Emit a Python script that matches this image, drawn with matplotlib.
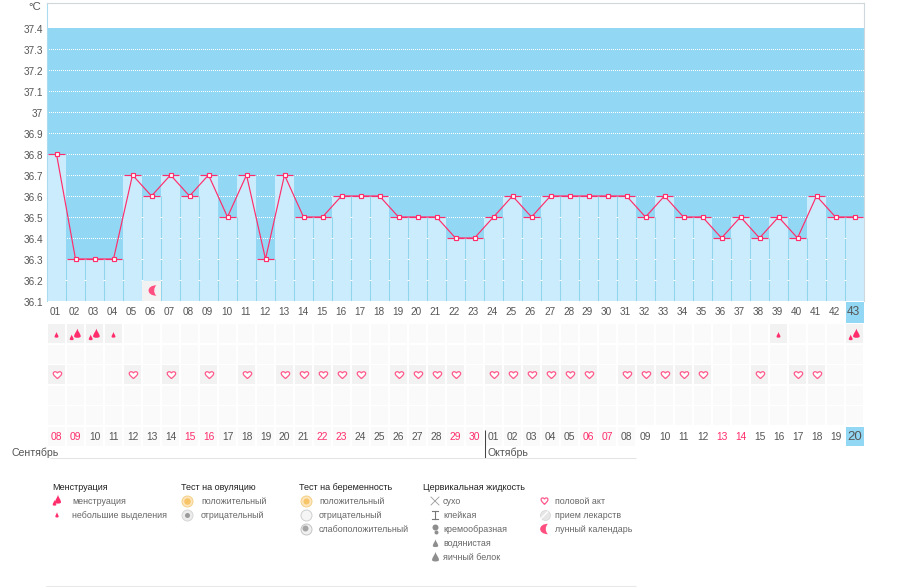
import matplotlib
matplotlib.use("Agg")
import matplotlib.pyplot as plt
from matplotlib.path import Path
from matplotlib.patches import Rectangle, PathPatch
from matplotlib.transforms import Affine2D, ScaledTranslation

plt.rcParams['font.family'] = ['Liberation Sans', 'DejaVu Sans']

W, H = 902, 587
cycle_days = [f"{i:02d}" for i in range(1, 44)]
temps = [36.8, 36.3, 36.3, 36.3, 36.7, 36.6, 36.7, 36.6, 36.7, 36.5, 36.7, 36.3, 36.7,
         36.5, 36.5, 36.6, 36.6, 36.6, 36.5, 36.5, 36.5, 36.4, 36.4, 36.5, 36.6, 36.5,
         36.6, 36.6, 36.6, 36.6, 36.6, 36.5, 36.6, 36.5, 36.5, 36.4, 36.5, 36.4, 36.5,
         36.4, 36.6, 36.5, 36.5]
dates = [f"{d:02d}" for d in range(8, 31)] + [f"{d:02d}" for d in range(1, 21)]
red_dates = [1, 2, 8, 9, 15, 16, 22, 23, 29, 30, 36, 37]
y_ticks = [36.1, 36.2, 36.3, 36.4, 36.5, 36.6, 36.7, 36.8, 36.9, 37, 37.1, 37.2, 37.3, 37.4]
y_tick_labels = ["36.1", "36.2", "36.3", "36.4", "36.5", "36.6", "36.7", "36.8", "36.9",
                 "37", "37.1", "37.2", "37.3", "37.4"]
heavy_flow = [2, 3, 43]
light_flow = [1, 4, 39]
sex_days = [1, 5, 7, 9, 11, 13, 14, 15, 16, 17, 19, 20, 21, 22, 24, 25, 26, 27, 28, 29,
            31, 32, 33, 34, 35, 38, 40, 41]
moon_days = [6]
months = ["Сентябрь", "Октябрь"]
legend_groups = [
    ("Менструация", ["менструация", "небольшие выделения"]),
    ("Тест на овуляцию", ["положительный", "отрицательный"]),
    ("Тест на беременность", ["положительный", "отрицательный", "слабоположительный"]),
    ("Цервикальная жидкость", ["сухо", "клейкая", "кремообразная", "водянистая", "яичный белок"]),
    ("", ["половой акт", "прием лекарств", "лунный календарь"]),
]

DARK, LIGHT, SEP = "#92d8f4", "#cbecfd", "#8fd5ec"
PINK, GREY, CELL, CELL_ON = "#ff2d6b", "#555555", "#fafafb", "#f2f2f3"

L, R = 47, 864
PX_PER_DEG = 210.0
Y_BOTTOM_PX, Y_LOW = 301, 36.1
Y_TOP_PX = 3
Y_HIGH = Y_LOW + (Y_BOTTOM_PX - Y_TOP_PX) / PX_PER_DEG

fig = plt.figure(figsize=(W / 100, H / 100), dpi=100, facecolor="white")


def axes_px(x0, x1, y_top, y_bot):
    return fig.add_axes([x0 / W, 1 - y_bot / H, (x1 - x0) / W, (y_bot - y_top) / H])


def drop_path():
    return Path([(0, -1), (0.18, -0.4), (0.75, 0.1), (0.75, 0.6), (0.75, 1), (-0.75, 1),
                 (-0.75, 0.6), (-0.75, 0.1), (-0.18, -0.4), (0, -1)],
                [1, 4, 4, 4, 4, 4, 4, 4, 4, 4])


def heart_path():
    return Path([(0, 0.95), (-0.4, 0.5), (-1, 0.1), (-1, -0.4), (-1, -0.95), (-0.25, -1.05), (0, -0.5),
                 (0.25, -1.05), (1, -0.95), (1, -0.4), (1, 0.1), (0.4, 0.5), (0, 0.95)],
                [1, 4, 4, 4, 4, 4, 4, 4, 4, 4, 4, 4, 4])


def moon_path():
    return Path([(0.6, -1), (-1.5, -1), (-1.5, 1), (0.6, 1), (0.0, 0.5), (0.0, -0.5), (0.6, -1)],
                [1, 4, 4, 4, 4, 4, 4])


# ---- temperature chart
ax = axes_px(L, R, Y_TOP_PX, Y_BOTTOM_PX)
ax.set_xlim(0.5, 43.5)
ax.set_ylim(Y_LOW, Y_HIGH)
ax.set_facecolor("white")
x = list(range(1, 44))
ax.axhspan(Y_LOW, 37.4, color=DARK, lw=0, zorder=0)
ax.hlines(y_ticks[1:-1], 0.5, 43.5, colors="white", lw=0.72,
          linestyles=(0, (1, 2)), zorder=1, antialiaseds=False)
ax.bar(x, [t - Y_LOW for t in temps], bottom=Y_LOW, width=1.0, color=LIGHT, lw=0, zorder=2)
for i, t in zip(x, temps):
    if i > 1:
        top = min(t, temps[i - 2])
        ax.vlines(i - 0.5, Y_LOW, top, colors=SEP, lw=0.75, zorder=3).set_snap(True)
        for v in y_ticks[1:-1]:
            if v < top:
                ax.hlines(v, i - 0.53, i - 0.47, colors="white", lw=0.72, zorder=3.2)
    ax.hlines(t, i - 0.47, i + 0.47, colors=PINK, lw=0.85, zorder=4)
ax.plot(x, temps, color=PINK, lw=0.85, zorder=5, marker="s", ms=3.4, mfc="white", mec=PINK, mew=0.85)
for d in moon_days:
    ax.add_patch(Rectangle((d - 0.5, Y_LOW), 1.0, 0.095, fc=CELL_ON, lw=0, zorder=3.5))
ax.set_xticks([])
ax.set_yticks(y_ticks)
ax.set_yticklabels(y_tick_labels, fontsize=7.2, color=GREY)
ax.tick_params(axis="y", length=0, pad=3)
shift = ScaledTranslation(0, -1 / 100, fig.dpi_scale_trans)
for lab in ax.get_yticklabels():
    lab.set_transform(lab.get_transform() + shift)
for s in ("left", "top", "right"):
    ax.spines[s].set_color("#a9dcee" if s == "left" else "#cfd8dc")
    ax.spines[s].set_linewidth(0.8)
ax.spines["bottom"].set_visible(False)

# ---- strips under the chart: y axis is in pixels
st = axes_px(L, R, 301, 459)
st.set_xlim(0.5, 43.5)
st.set_ylim(459, 301)
st.axis("off")
row_tops = [324, 344.5, 365, 385.5, 406]
CELL_H = 19
for top in row_tops:
    for i in x:
        st.add_patch(Rectangle((i - 0.45, top), 0.92, CELL_H, fc=CELL, lw=0, zorder=1))
for i in x:
    if i <= 31:
        st.add_patch(Rectangle((i - 0.45, 427), 0.92, 19, fc=CELL, lw=0, zorder=1))

st.add_patch(Rectangle((42.53, 302), 0.97, 21, fc=DARK, lw=0, zorder=1))
st.add_patch(Rectangle((42.53, 427), 0.97, 19, fc=DARK, lw=0, zorder=1))
for i, lab in zip(x, cycle_days):
    st.text(i - 0.05, 312, lab, ha="center", va="center", color=GREY,
            fontsize=8.6 if i == 43 else 7.2, zorder=3)
for i, lab in zip(x, dates):
    col = PINK if i in red_dates else GREY
    st.text(i, 437.5, lab, ha="center", va="center", color=col,
            fontsize=9.5 if i == 43 else 7.4, zorder=3)

for d in heavy_flow + light_flow:
    st.add_patch(Rectangle((d - 0.45, row_tops[0]), 0.92, CELL_H, fc=CELL_ON, lw=0, zorder=2))
for d in sex_days:
    st.add_patch(Rectangle((d - 0.45, row_tops[2]), 0.92, CELL_H, fc=CELL_ON, lw=0, zorder=2))

XS = 19.0  # px per column


def strip_shape(path, col, y_px, sx, sy, **kw):
    tr = Affine2D().scale(sx, sy).translate(col, y_px) + st.transData
    st.add_patch(PathPatch(path, transform=tr, zorder=4, clip_on=False, **kw))


for d in light_flow:
    strip_shape(drop_path(), d, 335, 2.6 / XS, 3.0, fc=PINK, lw=0)
for d in heavy_flow:
    strip_shape(drop_path(), d + 0.1, 333.5, 4.4 / XS, 4.8, fc=PINK, lw=0)
    strip_shape(drop_path(), d - 0.2, 337.5, 2.6 / XS, 3.0, fc=PINK, lw=0)
for d in sex_days:
    strip_shape(heart_path(), d + 0.05, 375, 4.2 / XS, 3.8, fc="white", ec="#ff5a8c", lw=0.9)

for d in moon_days:
    tr = Affine2D().scale(5.0 / XS, 5.2 / PX_PER_DEG).translate(d + 0.1, 36.1 + 10.5 / PX_PER_DEG) + ax.transData
    ax.add_patch(PathPatch(moon_path(), transform=tr, fc="#ff4f80", lw=0, zorder=6))

# ---- overlay in pixel coordinates
ov = fig.add_axes([0, 0, 1, 1], facecolor="none")
ov.set_xlim(0, W)
ov.set_ylim(H, 0)
ov.axis("off")
ov.text(28, 7, "°C", fontsize=8.2, color=GREY, ha="left", va="center")
ov.text(12, 453, months[0], fontsize=7.6, color=GREY, va="center")
ov.text(488, 453, months[1], fontsize=7.6, color=GREY, va="center")
ov.vlines(484.5, 430, 458, colors="#444444", lw=0.75).set_snap(True)
ov.hlines(458, 50, 636, colors="#e4e4e4", lw=0.75)
ov.hlines(586, 46, 636, colors="#e8e8e8", lw=0.75)

title_x = [52, 181, 299, 423, None]
text_x = [72, 201, 319, 443, 555]
item_y = [501, 515, 529, 543, 557]
for gi, (title, items) in enumerate(legend_groups):
    if title:
        ov.text(title_x[gi], 487, title, fontsize=6.5, color="#222222", va="center")
    for yy, it in zip(item_y, items):
        ov.text(text_x[gi], yy, it, fontsize=6.4, color="#666666", va="center")


def icon(path, x0, y0, sx, sy, **kw):
    tr = Affine2D().scale(sx, sy).translate(x0, y0) + ov.transData
    ov.add_patch(PathPatch(path, transform=tr, **kw))


def disc(x0, y0, r, **kw):
    ov.scatter([x0], [y0], s=(2 * r * 0.72) ** 2, **kw)


icon(drop_path(), 58, 499.5, 4, 4.6, fc=PINK, lw=0)
icon(drop_path(), 54.5, 503, 2.4, 3, fc=PINK, lw=0)
icon(drop_path(), 57, 515, 2.2, 2.8, fc=PINK, lw=0)
disc(187, 501, 5.5, fc="#fde6bd", ec="#f6cf85", lw=0.7)
disc(187, 501, 3.3, fc="#f8c468", lw=0)
disc(187, 515, 5.5, fc="#ececec", ec="#d6d6d6", lw=0.7)
disc(187, 515, 2.5, fc="#9a9a9a", lw=0)
disc(306, 501, 5.5, fc="#fde6bd", ec="#f6cf85", lw=0.7)
disc(306, 501, 3, fc="#f8c468", lw=0)
disc(306, 515, 5.5, fc="#f5f5f5", ec="#cfcfcf", lw=0.7)
disc(306, 529, 5.5, fc="#f0f0f0", ec="#c4c4c4", lw=0.7)
disc(305, 528, 3, fc="#a5a5a5", lw=0)
ov.plot([431, 439], [497, 505], color="#999999", lw=0.6)
ov.plot([431, 439], [505, 497], color="#999999", lw=0.6)
ov.plot([432, 438], [511, 511], color="#777777", lw=0.8)
ov.plot([432, 438], [519, 519], color="#777777", lw=0.8)
ov.plot([435, 435], [511, 519], color="#777777", lw=0.8)
disc(435, 526.5, 3, fc="#8e8e8e", lw=0)
disc(436, 532, 2, fc="#8e8e8e", lw=0)
icon(drop_path(), 435.5, 543.5, 3.6, 4, fc="#8e8e8e", lw=0)
icon(drop_path(), 435.5, 557, 4.6, 5, fc="#8e8e8e", lw=0)
icon(heart_path(), 544.5, 501, 3.4, 3.6, fc="white", ec="#ff5a8c", lw=0.9)
disc(544.5, 515, 5, fc="#e6e6e6", ec="#d5d5d5", lw=0.5)
ov.plot([541.5, 547.5], [518, 512], color="white", lw=1)
icon(moon_path(), 545, 529, 5, 5.2, fc="#ff4f80", lw=0)

fig.savefig("out.png", dpi=100, facecolor="white")
